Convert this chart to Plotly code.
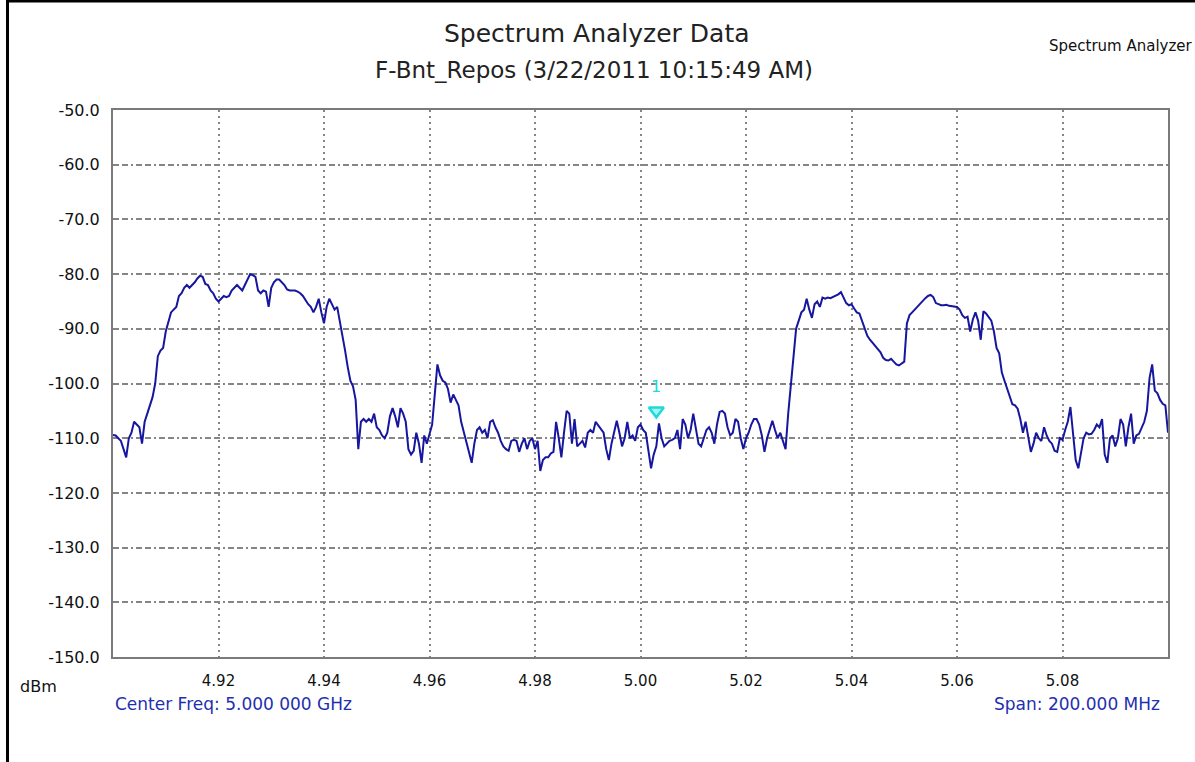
import numpy as np
import plotly.graph_objects as go

# ---- sweep data -------------------------------------------------------
start_ghz = 4.90
stop_ghz = 5.10
n_points = 401

level_dbm = [
    -109.4, -109.5, -110.0, -110.5, -112.0, -113.5, -110.0, -109.0, -107.0, -107.5,
    -108.0, -111.0, -107.0, -105.5, -104.0, -102.5, -100.0, -95.0, -94.0, -93.5,
    -90.5, -88.5, -87.0, -86.5, -86.0, -84.0, -83.5, -82.5, -82.0, -82.5,
    -82.0, -81.5, -80.8, -80.3, -80.5, -81.8, -82.0, -83.0, -83.5, -84.5,
    -85.0, -84.5, -84.0, -84.2, -84.0, -83.0, -82.5, -82.0, -82.5, -83.0,
    -82.0, -81.0, -80.0, -80.2, -80.5, -83.0, -83.5, -83.0, -83.2, -86.0,
    -82.5, -81.5, -81.0, -81.0, -81.5, -82.0, -82.8, -83.0, -83.0, -83.0,
    -83.2, -83.5, -84.0, -84.8, -85.5, -86.0, -87.0, -86.0, -84.5, -87.0,
    -89.0, -86.0, -84.5, -85.5, -86.5, -86.0, -88.5, -91.5, -94.0, -97.0,
    -99.5, -100.5, -103.0, -112.0, -107.0, -106.5, -107.0, -106.5, -107.0, -105.5,
    -108.0, -108.5, -109.5, -110.0, -109.0, -106.0, -104.5, -106.0, -108.0, -104.5,
    -105.5, -107.0, -112.0, -113.0, -112.3, -109.0, -111.0, -114.5, -109.5, -111.0,
    -109.0, -107.5, -102.0, -96.5, -98.5, -99.5, -99.8, -101.0, -103.5, -102.0,
    -103.0, -104.0, -107.0, -109.0, -111.0, -112.5, -114.5, -111.0, -108.5, -108.0,
    -109.0, -108.5, -110.0, -107.0, -106.7, -108.0, -109.0, -110.5, -111.5, -112.0,
    -112.3, -110.5, -110.3, -110.5, -112.5, -111.0, -110.0, -112.0, -110.5, -110.0,
    -112.0, -110.5, -116.0, -114.0, -113.5, -113.5, -112.8, -112.5, -107.0, -110.0,
    -113.5, -109.0, -105.0, -105.5, -111.0, -106.5, -111.5, -111.0, -110.5, -111.7,
    -109.0, -108.5, -109.0, -107.0, -107.7, -108.5, -109.0, -112.0, -114.0, -111.0,
    -109.0, -106.8, -109.0, -111.5, -110.0, -107.0, -110.0, -109.5, -110.5, -108.0,
    -107.5, -108.5, -109.0, -112.0, -115.5, -113.0, -111.5, -107.3, -110.0, -111.5,
    -111.0, -110.5, -110.3, -110.0, -108.5, -112.0, -106.5, -107.5, -110.0, -108.5,
    -105.5, -108.0, -111.0, -111.5, -110.0, -108.5, -108.0, -109.0, -111.0, -107.5,
    -105.2, -105.0, -105.5, -108.0, -109.5, -109.0, -106.5, -107.0, -110.0, -112.0,
    -110.0, -109.0, -107.5, -106.5, -106.5, -107.5, -109.5, -112.5, -110.0, -108.5,
    -106.8, -108.5, -110.0, -109.0, -110.5, -112.0, -105.5, -100.7, -96.0, -90.0,
    -88.5, -87.0, -86.5, -84.5, -86.5, -88.0, -85.5, -85.0, -86.0, -84.3,
    -84.5, -84.3, -84.4, -84.2, -84.0, -83.7, -83.3, -84.2, -85.3, -85.7,
    -85.5, -86.3, -87.0, -87.2, -88.5, -90.0, -91.3, -92.0, -92.6, -93.3,
    -93.8, -94.3, -95.3, -95.7, -95.8, -95.5, -96.0, -96.5, -96.7, -96.3,
    -96.0, -89.0, -87.5, -87.0, -86.5, -85.8, -85.3, -84.8, -84.4, -84.0,
    -83.8, -84.2, -85.3, -85.5, -85.7, -85.7, -85.6, -85.8, -85.9, -86.0,
    -86.0, -86.5, -87.5, -88.0, -87.8, -90.5, -88.3, -87.0, -88.5, -92.0,
    -86.8, -87.2, -87.8, -88.5, -90.5, -93.5, -94.5, -98.0, -99.5, -101.0,
    -102.5, -103.8, -104.0, -104.6, -106.5, -109.0, -107.0, -109.5, -112.5, -111.0,
    -109.0, -110.0, -110.5, -108.0, -109.5, -110.5, -111.0, -112.3, -112.5, -110.0,
    -110.3, -108.5, -107.0, -104.3, -109.0, -114.0, -115.5, -112.5, -110.0, -109.0,
    -109.3, -109.2, -108.5, -107.5, -108.0, -106.5, -113.0, -114.5, -110.0, -109.5,
    -111.5, -110.0, -106.5, -107.5, -111.5, -108.0, -105.5, -111.0, -109.5, -109.2,
    -108.0, -107.0, -105.0, -99.0, -96.5, -101.3, -101.8, -103.0, -103.7, -104.0,
    -109.0,
]
freq_ghz = np.linspace(start_ghz, stop_ghz, n_points)

# marker 1
marker_freq = [5.003]
marker_level = [-105.0]
marker_name = ["1"]

# axis ticks
y_ticks = [-50, -60, -70, -80, -90, -100, -110, -120, -130, -140, -150]
y_ticktext = ["-50.0", "-60.0", "-70.0", "-80.0", "-90.0", "-100.0",
              "-110.0", "-120.0", "-130.0", "-140.0", "-150.0"]
x_ticks = [4.92, 4.94, 4.96, 4.98, 5.00, 5.02, 5.04, 5.06, 5.08]
x_ticktext = ["4.92", "4.94", "4.96", "4.98", "5.00", "5.02", "5.04", "5.06", "5.08"]

title_text = "Spectrum Analyzer Data"
subtitle_text = "F-Bnt_Repos (3/22/2011 10:15:49 AM)"
corner_text = "Spectrum Analyzer"
center_text = "Center Freq: 5.000 000 GHz"
span_text = "Span: 200.000 MHz"
unit_text = "dBm"

# ---- layout geometry (pixels) -----------------------------------------
W, H = 1195, 762
L, R, T, B = 113, 27, 110, 105
PW, PH = W - L - R, H - T - B


def px(x):
    return (x - L) / PW


def py(y):
    return (H - B - y) / PH


FONT = "DejaVu Sans, Verdana, sans-serif"
BLUE_TEXT = "#1f2fb0"
GRID = "#858585"
CYAN = "#22d8d8"

fig = go.Figure()

fig.add_trace(go.Scatter(
    x=freq_ghz, y=level_dbm, mode="lines",
    line=dict(color="#16169e", width=2),
    hoverinfo="x+y", showlegend=False,
))

fig.add_trace(go.Scatter(
    x=marker_freq, y=marker_level, mode="markers",
    marker=dict(symbol="triangle-down", size=13, color="#9ff5f5",
                line=dict(color=CYAN, width=2.5)),
    showlegend=False,
))

fig.update_xaxes(
    range=[start_ghz, stop_ghz], tickvals=x_ticks, ticktext=x_ticktext,
    showgrid=True, gridcolor=GRID, gridwidth=2, griddash="2px,4px",
    showline=True, linecolor="#7a7a7a", linewidth=2, mirror=True,
    zeroline=False, ticks="", ticklabelstandoff=9,
    tickfont=dict(family=FONT, size=15, color="#111111"),
)
fig.update_yaxes(
    range=[-150, -50], tickvals=y_ticks, ticktext=y_ticktext,
    showgrid=True, gridcolor=GRID, gridwidth=2,
    griddash="6px,3px,6px,3px,2px,3px",
    showline=True, linecolor="#7a7a7a", linewidth=2, mirror=True,
    zeroline=False, ticks="", ticklabelstandoff=8,
    tickfont=dict(family=FONT, size=16, color="#111111"),
)

annotations = [
    dict(text=title_text, x=px(597), y=py(33), font=dict(size=25, color="#222222")),
    dict(text=subtitle_text, x=px(594), y=py(70), font=dict(size=23, color="#222222")),
    dict(text=corner_text, x=px(1195), y=py(46), xanchor="right",
         font=dict(size=15, color="#111111")),
    dict(text=unit_text, x=px(18), y=py(686), xanchor="left",
         font=dict(size=16, color="#111111")),
    dict(text=center_text, x=px(113), y=py(704), xanchor="left",
         font=dict(size=17, color=BLUE_TEXT)),
    dict(text=span_text, x=px(1162), y=py(704), xanchor="right",
         font=dict(size=17, color=BLUE_TEXT)),
]
for a in annotations:
    a.setdefault("xanchor", "center")
    a["yanchor"] = "middle"
    a["xref"] = "paper"
    a["yref"] = "paper"
    a["showarrow"] = False
    a["font"]["family"] = FONT

# marker label above the triangle
annotations.append(dict(
    text=marker_name[0], x=marker_freq[0], y=marker_level[0],
    xref="x", yref="y", showarrow=False, yshift=24,
    font=dict(family=FONT, size=16, color=CYAN),
))
fig.update_layout(annotations=annotations)

# outer window frame (left and top edges)
fig.add_shape(type="line", xref="paper", yref="paper",
              x0=px(7.5), x1=px(7.5), y0=py(0), y1=py(H),
              line=dict(color="#000000", width=3))
fig.add_shape(type="line", xref="paper", yref="paper",
              x0=px(6), x1=px(W), y0=py(1), y1=py(1),
              line=dict(color="#000000", width=3))

fig.update_layout(
    width=W, height=H,
    margin=dict(l=L, r=R, t=T, b=B),
    paper_bgcolor="white", plot_bgcolor="white",
    showlegend=False,
)

fig.write_html("out.html")
